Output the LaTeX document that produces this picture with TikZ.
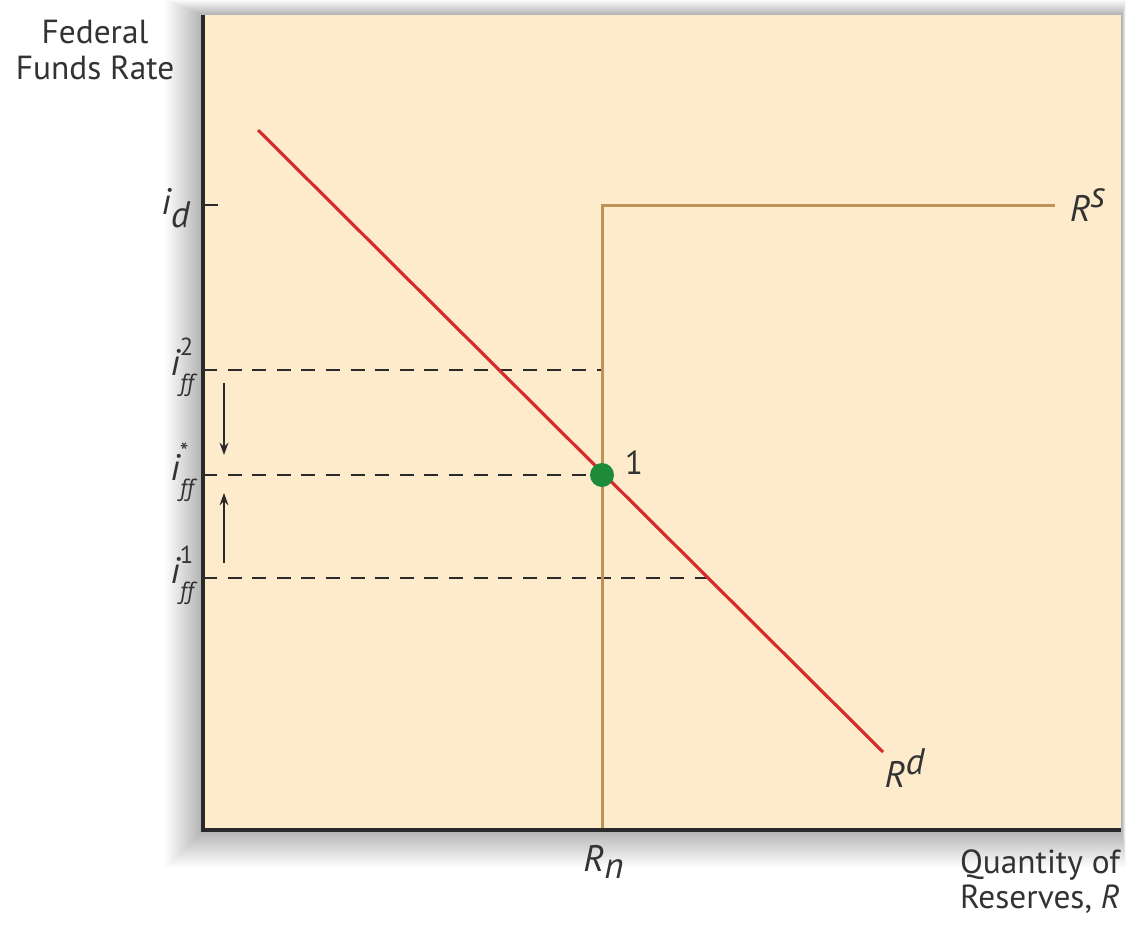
\documentclass[tikz,border=0pt]{standalone}
\usepackage{fontspec}
\setmainfont{PT Sans}
\usetikzlibrary{arrows.meta}
\definecolor{bgfill}{HTML}{FEEBCC}
\definecolor{supply}{HTML}{BF9257}
\definecolor{demand}{HTML}{D52B2B}
\definecolor{eqdot}{HTML}{1E8B3B}
\definecolor{axiscol}{HTML}{2A2A2A}
\definecolor{txt}{HTML}{333333}
\newcommand{\myscr}[1]{{\fontsize{14}{14}\selectfont #1}}
\newcommand{\ifflabel}[1]{i\rlap{\raisebox{0.55em}{\myscr{\upshape #1}}}\raisebox{-0.42em}{\myscr{ff}}}
\tikzset{
  axisline/.style={draw=axiscol, line width=2.3pt},
  supplyline/.style={draw=supply, line width=1.7pt},
  demandline/.style={draw=demand, line width=1.8pt},
  guide/.style={draw=axiscol, line width=1.5pt, dash pattern=on 8pt off 6pt},
  movearrow/.style={draw=axiscol, line width=0.9pt, -{Stealth[length=7pt,width=5pt]}},
  lbl/.style={text=txt, inner sep=1pt, font=\fontsize{19}{23}\selectfont},
  mlbl/.style={text=txt, inner sep=1pt, font=\fontsize{21}{24}\selectfont\itshape},
  ilbl/.style={text=txt, inner sep=0pt, anchor=east, font=\fontsize{21}{24}\selectfont\itshape},
}
\begin{document}
\begin{tikzpicture}[x=0.02cm, y=-0.02cm]
\useasboundingbox (0,0) rectangle (1126,924);
\fill[white] (0,0) rectangle (1126,924);
% soft shadow around the plot box
\foreach \d in {1,...,38}{
  \fill[black, opacity=0.009] (203-\d,15-\d*0.4) rectangle (1122+\d*0.1,830+\d);
}
\fill[bgfill] (203,15) rectangle (1121,830);
% coordinates
\coordinate (O) at (203,830);
\coordinate (Ytop) at (203,15);
\coordinate (Xend) at (1121,830);
\coordinate (Sbot) at (602,830);
\coordinate (Scorner) at (602,205);
\coordinate (Send) at (1055,205);
\coordinate (Dstart) at (258,130);
\coordinate (Dend) at (883,752);
\coordinate (iday) at (203,205);
\coordinate (idtick) at (218,205);
\coordinate (y2) at (203,370);
\coordinate (ys) at (203,475);
\coordinate (y1) at (203,578);
\coordinate (x2) at (602,370);
\coordinate (x1) at (707,578);
\coordinate (eqc) at (602,475);
\coordinate (a1s) at (224,383);
\coordinate (a1e) at (224,455);
\coordinate (a2s) at (224,563);
\coordinate (a2e) at (224,493);
% dashed guides
\draw[guide] (y2) -- (x2);
\draw[guide] (y1) -- (x1);
\draw[guide] (ys) -- (eqc);
% supply
\draw[supplyline] (Sbot) -- (Scorner) -- (Send);
% demand
\draw[demandline] (Dstart) -- (Dend);
% equilibrium point
\node[circle, fill=eqdot, minimum size=0.48cm, inner sep=0pt] (eq) at (eqc) {};
% axes
\draw[axisline] (Ytop) -- (O) -- (Xend);
\draw[draw=axiscol, line width=0.8pt] (iday) -- (idtick);
% arrows
\draw[movearrow] (a1s) -- (a1e);
\draw[movearrow] (a2s) -- (a2e);
% labels
\node[lbl, align=center] (ytitle) at (95,50) {Federal\\[-3pt]Funds Rate};
\node[lbl, align=right, anchor=east] (xtitle) at (1122,882) {Quantity of\\[-3pt]Reserves, \textit{R}};
\node[mlbl] (lid) at (176,208) {i$_{\textit{d}}$};
\node[ilbl] (li2) at (194,367) {\ifflabel{2}};
\node[ilbl] (lis) at (194,472) {\ifflabel{*}};
\node[ilbl] (li1) at (194,575) {\ifflabel{1}};
\node[mlbl] (lRs) at (1088,205) {R$^{\textit{s}}$};
\node[mlbl] (lRd) at (905,768) {R$^{\textit{d}}$};
\node[mlbl] (lRn) at (604,862) {R$_{\textit{n}}$};
\node[lbl] (lone) at (634,463) {1};
\end{tikzpicture}
\end{document}
